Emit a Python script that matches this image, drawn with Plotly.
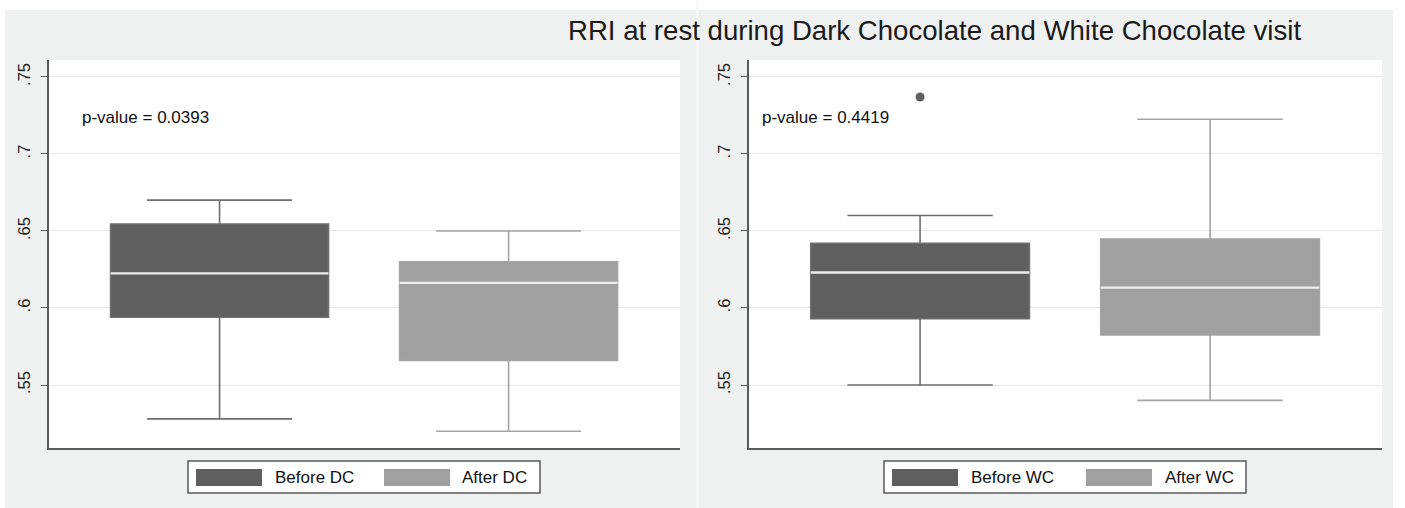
import plotly.graph_objects as go

# ---- data -------------------------------------------------------------
dc_labels = ["Before DC", "After DC"]
dc_lower = [0.528, 0.520]
dc_q1 = [0.594, 0.566]
dc_median = [0.6225, 0.6163]
dc_q3 = [0.6545, 0.630]
dc_upper = [0.670, 0.650]
dc_outliers = [[], []]
dc_pvalue = "p-value = 0.0393"

wc_labels = ["Before WC", "After WC"]
wc_lower = [0.550, 0.540]
wc_q1 = [0.593, 0.5825]
wc_median = [0.623, 0.6132]
wc_q3 = [0.642, 0.6448]
wc_upper = [0.660, 0.7225]
wc_outliers = [[0.737], []]
wc_pvalue = "p-value = 0.4419"

title_text = "RRI at rest during Dark Chocolate and White Chocolate visit"
tick_vals = [0.55, 0.60, 0.65, 0.70, 0.75]
tick_text = [".55", ".6", ".65", ".7", ".75"]

# ---- styling ----------------------------------------------------------
W, H = 1405, 508
FONT = "Liberation Sans, Arial, Helvetica, sans-serif"
PANEL_BG = "#eff0f0"
AXIS_COL = "#5a5a5a"
GRID_COL = "#e7e7e7"
FILL = ["#5f5f5f", "#a0a0a0"]
WHISK = ["#6e6e6e", "#a3a3a3"]
MEDIAN_COL = "#ececec"
POS = [1, 2]
BOX_W = 0.754
Y_RANGE = [0.5091, 0.7610]
X_RANGE = [0.41, 2.593]


def fx(px):
    return px / W


def fy(py):
    return 1 - py / H


fig = go.Figure()

panels = [
    dict(xa="x", ya="y", labels=dc_labels, lo=dc_lower, q1=dc_q1, med=dc_median,
         q3=dc_q3, hi=dc_upper, out=dc_outliers, pval=dc_pvalue,
         pv_x=80,
         legend=dict(box=(188, 540), sw=(196, 384), tx=(273, 460))),
    dict(xa="x2", ya="y2", labels=wc_labels, lo=wc_lower, q1=wc_q1, med=wc_median,
         q3=wc_q3, hi=wc_upper, out=wc_outliers, pval=wc_pvalue,
         pv_x=760,
         legend=dict(box=(884, 1246), sw=(892, 1086), tx=(969, 1163))),
]

shapes = [
    # white strips around / between the two grey panels
    dict(type="rect", xref="paper", yref="paper", x0=0, x1=1, y0=fy(10), y1=1.01,
         fillcolor="white", line_width=0, layer="below"),
    dict(type="rect", xref="paper", yref="paper", x0=-0.01, x1=fx(5), y0=-0.01, y1=1.01,
         fillcolor="white", line_width=0, layer="below"),
    dict(type="rect", xref="paper", yref="paper", x0=fx(1393), x1=1.01, y0=-0.01, y1=1.01,
         fillcolor="white", line_width=0, layer="below"),
    dict(type="rect", xref="paper", yref="paper", x0=fx(696.5), x1=fx(698.5), y0=-0.01, y1=1.01,
         fillcolor="#f8f8f8", line_width=0, layer="below"),
]
annotations = [
    dict(text=title_text, xref="paper", yref="paper", x=fx(934), y=fy(30),
         xanchor="center", yanchor="middle", showarrow=False,
         font=dict(family=FONT, size=27.6, color="#1a1a1a")),
]

for p in panels:
    for i in range(2):
        fig.add_trace(go.Box(
            x=[POS[i]], q1=[p["q1"][i]], median=[p["med"][i]], q3=[p["q3"][i]],
            lowerfence=[p["lo"][i]], upperfence=[p["hi"][i]],
            name=p["labels"][i], width=BOX_W, whiskerwidth=0.665,
            fillcolor=FILL[i], line=dict(color=WHISK[i], width=1.6),
            boxpoints=False, showlegend=False, hoverinfo="skip",
            xaxis=p["xa"], yaxis=p["ya"],
        ))
        # light median line across the box
        fig.add_trace(go.Scatter(
            x=[POS[i] - BOX_W / 2, POS[i] + BOX_W / 2], y=[p["med"][i], p["med"][i]],
            mode="lines", line=dict(color=MEDIAN_COL, width=2.4),
            showlegend=False, hoverinfo="skip", xaxis=p["xa"], yaxis=p["ya"],
        ))
        if p["out"][i]:
            fig.add_trace(go.Scatter(
                x=[POS[i]] * len(p["out"][i]), y=p["out"][i], mode="markers",
                marker=dict(color=FILL[i], size=9, line_width=0),
                showlegend=False, hoverinfo="skip", xaxis=p["xa"], yaxis=p["ya"],
            ))

    # p-value note
    annotations.append(dict(
        text=p["pval"], xref="paper", yref="paper", x=fx(p["pv_x"]), y=fy(117),
        xanchor="left", yanchor="middle", showarrow=False,
        font=dict(family=FONT, size=17, color="#111"),
    ))

    # legend drawn as framed swatches
    lg = p["legend"]
    shapes.append(dict(type="rect", xref="paper", yref="paper",
                       x0=fx(lg["box"][0]), x1=fx(lg["box"][1]), y0=fy(493), y1=fy(461),
                       fillcolor="white", line=dict(color=AXIS_COL, width=1.5)))
    for i in range(2):
        shapes.append(dict(type="rect", xref="paper", yref="paper",
                           x0=fx(lg["sw"][i]), x1=fx(lg["sw"][i] + 66), y0=fy(486), y1=fy(469),
                           fillcolor=FILL[i], line_width=0))
        annotations.append(dict(
            text=p["labels"][i], xref="paper", yref="paper", x=fx(lg["tx"][i]), y=fy(477.5),
            xanchor="left", yanchor="middle", showarrow=False,
            font=dict(family=FONT, size=17, color="#111"),
        ))

axis_common_y = dict(
    range=Y_RANGE, tickvals=tick_vals, ticktext=tick_text, tickangle=-90,
    ticks="outside", ticklen=6, tickwidth=1.3, tickcolor=AXIS_COL,
    ticklabelstandoff=5,
    showline=True, linecolor=AXIS_COL, linewidth=1.6,
    showgrid=True, gridcolor=GRID_COL, gridwidth=1, zeroline=False,
    tickfont=dict(family=FONT, size=16.5, color="#222"), fixedrange=True,
)
axis_common_x = dict(
    range=X_RANGE, showticklabels=False, ticks="", showgrid=False, zeroline=False,
    showline=True, linecolor=AXIS_COL, linewidth=1.8, fixedrange=True,
)

y_dom = [fy(448), fy(60)]
fig.update_layout(
    width=W, height=H,
    margin=dict(l=0, r=0, t=0, b=0),
    paper_bgcolor=PANEL_BG, plot_bgcolor="white",
    showlegend=False,
    xaxis=dict(domain=[fx(49), fx(680)], anchor="y", **axis_common_x),
    yaxis=dict(domain=y_dom, anchor="x", **axis_common_y),
    xaxis2=dict(domain=[fx(749), fx(1382)], anchor="y2", **axis_common_x),
    yaxis2=dict(domain=y_dom, anchor="x2", **axis_common_y),
    shapes=shapes,
    annotations=annotations,
    font=dict(family=FONT),
)

fig.write_html("out.html")
